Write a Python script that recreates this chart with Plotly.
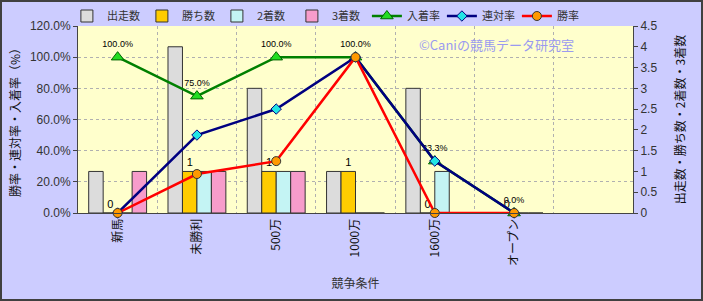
import plotly.graph_objects as go

# ---- data ----
categories = ["新馬", "未勝利", "500万", "1000万", "1600万", "オープン", ""]
starts = [1, 4, 3, 1, 3, 0]          # 出走数
wins = [0, 1, 1, 1, 0, 0]            # 勝ち数
seconds = [0, 1, 1, 0, 1, 0]         # 2着数
thirds = [1, 1, 1, 0, 0, 0]          # 3着数
place_rate = [1.0, 0.75, 1.0, 1.0, 0.333, 0.0]   # 入着率
quinella_rate = [0.0, 0.5, 0.667, 1.0, 0.333, 0.0]  # 連対率
win_rate = [0.0, 0.25, 0.333, 1.0, 0.0, 0.0]     # 勝率
place_labels = ["100.0%", "75.0%", "100.0%", "100.0%", "33.3%", "0.0%"]

x = list(range(len(starts)))
W, H = 703, 301
ML, MR, MT, MB = 78, 70, 26, 88
PW, PH = W - ML - MR, H - MT - MB

FONT = "Liberation Sans, Noto Sans CJK JP, sans-serif"
CJK = "Noto Sans CJK JP, sans-serif"

fig = go.Figure()
bar_line = dict(color="#333333", width=1)
fig.add_trace(go.Bar(x=x, y=starts, name="出走数", marker=dict(color="#DCDCDC", line=bar_line), yaxis="y"))
fig.add_trace(go.Bar(x=x, y=wins, name="勝ち数", marker=dict(color="#FFCC00", line=bar_line), yaxis="y",
                     text=[str(v) for v in wins], textposition="outside",
                     textfont=dict(size=11, color="#000000", family=FONT), cliponaxis=False))
fig.add_trace(go.Bar(x=x, y=seconds, name="2着数", marker=dict(color="#C4F4F4", line=bar_line), yaxis="y"))
fig.add_trace(go.Bar(x=x, y=thirds, name="3着数", marker=dict(color="#F79CCB", line=bar_line), yaxis="y"))

fig.add_trace(go.Scatter(x=x, y=place_rate, name="入着率", yaxis="y2", mode="lines+markers+text",
                         line=dict(color="#008000", width=2.5),
                         marker=dict(symbol="triangle-up", size=11, color="#22DD22", line=dict(color="#006400", width=1)),
                         text=place_labels, textposition="top center",
                         textfont=dict(size=9, color="#000000", family=FONT), cliponaxis=False))
fig.add_trace(go.Scatter(x=x, y=quinella_rate, name="連対率", yaxis="y2", mode="lines+markers",
                         line=dict(color="#000080", width=2.5),
                         marker=dict(symbol="diamond", size=8, color="#22E5E5", line=dict(color="#000080", width=1)),
                         cliponaxis=False))
fig.add_trace(go.Scatter(x=x, y=win_rate, name="勝率", yaxis="y2", mode="lines+markers",
                         line=dict(color="#FF0000", width=2.5),
                         marker=dict(symbol="circle", size=9, color="#FF9900", line=dict(color="#333333", width=1)),
                         cliponaxis=False))

fig.update_layout(
    width=W, height=H,
    margin=dict(l=ML, r=MR, t=MT, b=MB, autoexpand=False),
    paper_bgcolor="#CCCCFF",
    plot_bgcolor="#FFFFCC",
    barmode="group", bargap=0.27, bargroupgap=0,
    font=dict(family=FONT, size=11, color="#333333"),
    showlegend=True,
    legend=dict(orientation="h", x=-0.02, xanchor="left", y=1 + 10 / PH, yanchor="middle",
                bgcolor="rgba(0,0,0,0)", font=dict(family=CJK, size=11, color="#333333"),
                traceorder="normal", itemwidth=30, tracegroupgap=0,
                entrywidth=30, entrywidthmode="pixels"),
    xaxis=dict(range=[-0.5, 6.5], tickmode="array", tickvals=list(range(7)), ticktext=categories,
               tickangle=-90, showgrid=False, showline=True, linecolor="#444444", linewidth=1,
               ticks="", tickfont=dict(family=CJK, size=12, color="#111111"), zeroline=False,
               title=dict(text="競争条件", font=dict(family=CJK, size=12, color="#333333"), standoff=14)),
    xaxis2=dict(range=[-0.5, 6.5], overlaying="x", tickmode="array",
                tickvals=[i + 0.5 for i in range(6)], showticklabels=False, showgrid=True,
                gridcolor="#B0B0B0", griddash="dot", gridwidth=1, zeroline=False, showline=False),
    yaxis=dict(range=[0, 4.5], dtick=0.5, side="right", showgrid=False, zeroline=False,
               showline=True, linecolor="#444444", linewidth=1, ticks="outside", ticklen=4,
               tickcolor="#444444",
               tickfont=dict(size=12, color="#333333"),
               title=dict(text="出走数・勝ち数・2着数・3着数", font=dict(family=CJK, size=12, color="#111111"), standoff=20)),
    yaxis2=dict(range=[0, 1.2], dtick=0.2, tickformat=".1%", overlaying="y", side="left",
                showgrid=True, gridcolor="#B0B0B0", griddash="dot", gridwidth=1, zeroline=False,
                showline=True, linecolor="#444444", linewidth=1, ticks="outside", ticklen=4,
                tickcolor="#444444", tickfont=dict(size=12, color="#333333"),
                title=dict(text="勝率・連対率・入着率（%）", font=dict(family=CJK, size=12, color="#111111"), standoff=6)),
    annotations=[dict(text="©Caniの競馬データ研究室", xref="paper", yref="paper",
                      x=(496 - ML) / PW, y=1 - (45 - MT) / PH, xanchor="center", yanchor="middle",
                      showarrow=False,
                      font=dict(family=CJK, size=13, color="#9A9AF0"))],
    shapes=[dict(type="rect", xref="paper", yref="paper",
                 x0=-(ML - 1) / PW, x1=1 + (MR - 1) / PW, y0=-(MB - 1) / PH, y1=1 + (MT - 1) / PH,
                 line=dict(color="#404040", width=2), layer="above")],
)
fig.update_traces(xaxis="x")
# dummy trace to activate xaxis2 gridlines at category boundaries
fig.add_trace(go.Scatter(x=[None], y=[None], xaxis="x2", yaxis="y", showlegend=False, hoverinfo="skip"))

fig.write_html("out.html")
